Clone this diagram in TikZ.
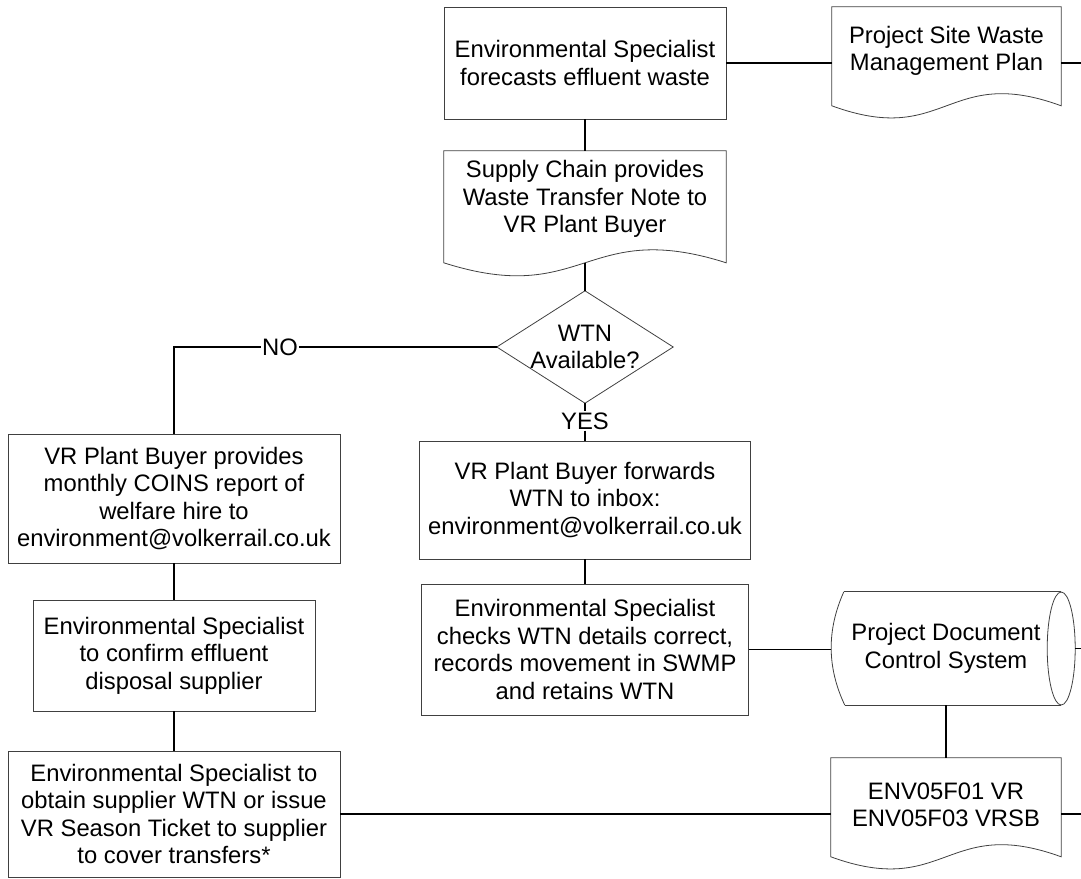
\documentclass[tikz,border=0pt]{standalone}
\usepackage{fontspec}
\setmainfont{Liberation Sans}
\usetikzlibrary{calc}
\tikzset{
  txt/.style={font=\fontsize{23.8}{27.4}\selectfont},
  box/.style={txt, draw=black!75, line width=0.8pt, rectangle, inner sep=0pt, align=center},
  plain/.style={txt, rectangle, inner sep=0pt, align=center},
  outline/.style={draw=black!75, line width=0.8pt},
  conn/.style={draw=black, line width=1.6pt},
  lbl/.style={txt, inner sep=1pt, fill=white},
}
\newcommand\docoutline[3]{%
  \draw[outline] (#1.north west) -- (#1.north east) -- ($(#1.north east)+(0,#2)$)
    .. controls ($(#1.north)+(0,#2-#3)$) and ($(#1.north)+(0,#2+#3)$) .. ($(#1.north west)+(0,#2)$) -- cycle;
  \coordinate (#1-b) at ($(#1.north)+(0,#2)$);}
\begin{document}
\begin{tikzpicture}[x=1pt,y=-1pt]
\useasboundingbox (0,0) rectangle (1081,878);

% nodes
\node[box, minimum width=282pt, minimum height=112pt] (top) at (585,63) {Environmental Specialist\\forecasts effluent waste};
\node[plain, minimum width=229pt, minimum height=88pt] (psw) at (946.5,51) {Project Site Waste\\Management Plan};
\node[plain, minimum width=282pt, minimum height=96pt] (sup) at (585,199) {Supply Chain provides\\Waste Transfer Note to\\VR Plant Buyer};
\node[plain, minimum width=176pt, minimum height=112pt] (dia) at (585,347) {WTN\\Available?};
\node[lbl] (no) at (280,347) {NO};
\node[lbl] (yes) at (585,421) {YES};
\node[box, minimum width=332pt, minimum height=129pt] (box1) at (174,498.5) {VR Plant Buyer provides\\monthly COINS report of\\welfare hire to\\environment@volkerrail.co.uk};
\node[box, minimum width=331pt, minimum height=118pt] (box2) at (585,500) {VR Plant Buyer forwards\\WTN to inbox:\\environment@volkerrail.co.uk};
\node[box, minimum width=282pt, minimum height=111pt] (lb2) at (174,655.5) {Environmental Specialist\\to confirm effluent\\disposal supplier};
\node[box, minimum width=327pt, minimum height=131pt] (box3) at (585,649.5) {Environmental Specialist\\checks WTN details correct,\\records movement in SWMP\\and retains WTN};
\node[plain, minimum width=230pt, minimum height=113pt] (cyl) at (946,648.5) {Project Document\\Control System};
\node[box, minimum width=332pt, minimum height=126pt] (lb3) at (174,814) {Environmental Specialist to\\obtain supplier WTN or issue\\VR Season Ticket to supplier\\to cover transfers*};
\node[plain, minimum width=230pt, minimum height=94pt] (env) at (946,805) {ENV05F01 VR\\ENV05F03 VRSB};

% shape outlines
\docoutline{psw}{99}{42}
\docoutline{sup}{112}{45}
\docoutline{env}{99}{42}
\draw[outline] (dia.north) -- (dia.east) -- (dia.south) -- (dia.west) -- cycle;
\draw[outline] ($(cyl.north west)+(13,0)$) -- (cyl.north east);
\draw[outline] ($(cyl.south west)+(14,0)$) -- (cyl.south east);
\draw[outline] ($(cyl.north west)+(13,0)$) .. controls ($(cyl.north west)+(-4,38)$) and ($(cyl.south west)+(-4,-38)$) .. ($(cyl.south west)+(14,0)$);
\draw[outline] (cyl.east) ellipse [x radius=14, y radius=56.5];

% free ends at the right border
\coordinate (e1) at (1081,63);
\coordinate (e2) at (1081,648.5);
\coordinate (e3) at (1081,814);

% connectors
\draw[conn] (top.east) -- (top.east -| psw.west);
\draw[conn] (top.east -| psw.east) -- (e1);
\draw[conn] (top.south) -- (sup.north);
\draw[conn] (sup-b) -- (dia.north);
\draw[conn] (dia.west) -- (no.east);
\draw[conn] (no.west) -| (box1.north);
\draw[conn] (dia.south) -- (yes.north);
\draw[conn] (yes.south) -- (box2.north);
\draw[conn] (box1.south) -- (lb2.north);
\draw[conn] (lb2.south) -- (lb3.north);
\draw[conn] (box2.south) -- (box3.north);
\draw[conn] (box3.east) -- (box3.east -| cyl.west);
\draw[conn] ($(cyl.east)+(14,0)$) -- (e2);
\draw[conn] (cyl.south) -- (env.north);
\draw[conn] (lb3.east) -- (lb3.east -| env.west);
\draw[conn] (lb3.east -| env.east) -- (e3);
\end{tikzpicture}
\end{document}
